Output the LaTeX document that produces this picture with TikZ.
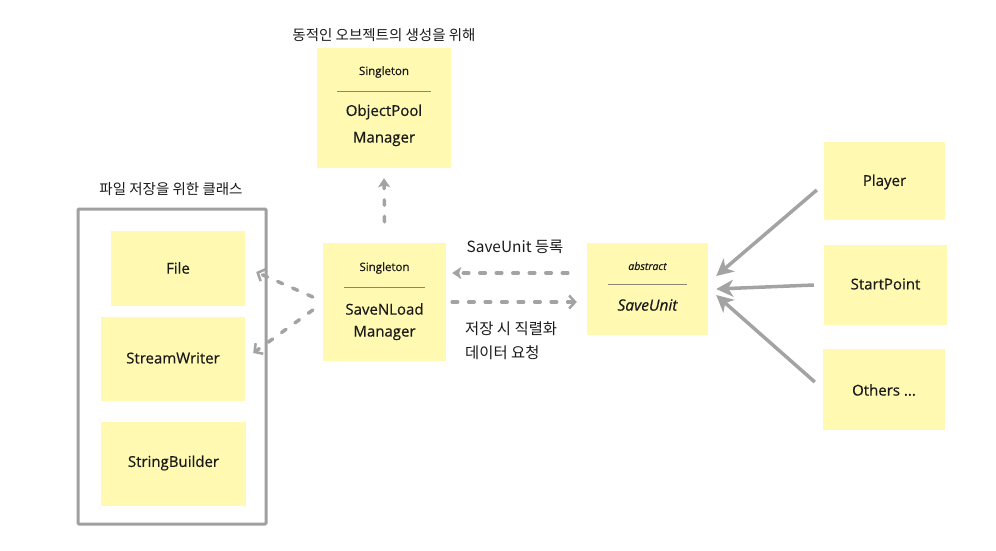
\documentclass[tikz,border=0pt]{standalone}
\usepackage{fontspec}
\setmainfont{Open Sans}[FakeBold=0.5]
\newfontfamily\kr{Noto Sans CJK KR}
\usetikzlibrary{arrows.meta}
\definecolor{sticky}{HTML}{FFF9B1}
\definecolor{conn}{HTML}{A3A3A3}
\definecolor{framec}{HTML}{A0A0A0}
\definecolor{rulec}{HTML}{8C8870}
\definecolor{ink}{HTML}{1A1A1A}
\begin{document}
\begin{tikzpicture}[x=1pt,y=-1pt,
  stickybox/.style={fill=sticky, draw=none, inner sep=0pt},
  clsname/.style={text=ink, font=\fontsize{15}{18}\selectfont, inner sep=0pt},
  stereo/.style={text=ink, font=\fontsize{11.5}{13}\selectfont, inner sep=0pt},
  grptitle/.style={text=ink, font=\kr\fontsize{14.5}{17}\selectfont, inner sep=0pt},
  notetext/.style={text=ink, font=\kr\fontsize{15.4}{18}\selectfont, inner sep=0pt},
  divider/.style={draw=rulec, line width=1pt},
  dasharrow/.style={draw=conn, line width=3.5pt, line cap=round, dash pattern=on 5.5pt off 11pt},
  openhead/.style={-{Straight Barb[length=6pt,width=13pt,line width=2.5pt]}},
  fillhead/.style={-{Stealth[length=9pt,width=12pt,inset=2pt]}},
  solidarrow/.style={draw=conn, line width=3.5pt, -{Stealth[length=17pt,width=17pt,inset=5pt]}}
]
\useasboundingbox (0,0) rectangle (996,550);

% frame
\node[draw=framec, line width=3pt, rounded corners=1pt, minimum width=188pt, minimum height=315pt, inner sep=0pt] (frame) at (172,366.5) {};
\node[grptitle] (frametitle) at (171,189) {파일 저장을 위한 클래스};

% left boxes
\node[stickybox, minimum width=134pt, minimum height=75pt] (file) at (178,268.5) {};
\node[clsname] (filet) at (178,268) {File};
\node[stickybox, minimum width=144pt, minimum height=84pt] (sw) at (173,359) {};
\node[clsname] (swt) at (173,358) {StreamWriter};
\node[stickybox, minimum width=145pt, minimum height=84pt] (sb) at (173.5,464) {};
\node[clsname] (sbt) at (173.5,463) {StringBuilder};

% ObjectPool
\node[grptitle] (optitle) at (384,35) {동적인 오브젝트의 생성을 위해};
\node[stickybox, minimum width=134pt, minimum height=120pt] (op) at (384,108) {};
\node[stereo] (ops) at (384,72) {Singleton};
\draw[divider] (337,91) -- (431,91);
\node[clsname] (opn1) at (384,112) {ObjectPool};
\node[clsname] (opn2) at (384,139) {Manager};

% SaveNLoad
\node[stickybox, minimum width=123pt, minimum height=118pt] (snl) at (384.5,302) {};
\node[stereo] (snls) at (384.5,268) {Singleton};
\draw[divider] (344,287) -- (425,287);
\node[clsname] (snln1) at (384.5,309) {SaveNLoad};
\node[clsname] (snln2) at (384.5,333) {Manager};

% SaveUnit
\node[stickybox, minimum width=121pt, minimum height=92pt] (su) at (647.5,289) {};
\node[stereo, font=\fontsize{10.5}{12}\selectfont\itshape] (sus) at (647.5,266) {abstract};
\draw[divider] (608,284) -- (687,284);
\node[clsname, font=\fontsize{15.5}{18}\selectfont\itshape] (sun) at (647.5,305) {SaveUnit};

% right boxes
\node[stickybox, minimum width=121pt, minimum height=78pt] (pl) at (884.5,181) {};
\node[clsname] (plt) at (884.5,182) {Player};
\node[stickybox, minimum width=123pt, minimum height=80pt] (sp) at (885.5,285) {};
\node[clsname] (spt) at (885.5,284) {StartPoint};
\node[stickybox, minimum width=122pt, minimum height=81pt] (ot) at (884,389.5) {};
\node[clsname] (ott) at (884,390) {Others ...};

% labels
\node[notetext] (reg) at (515,247) {SaveUnit 등록};
\node[notetext, anchor=west] (req1) at (465,329) {저장 시 직렬화};
\node[notetext, anchor=west] (req2) at (465,353) {데이터 요청};

% dashed connectors
\draw[dasharrow, fillhead] ([yshift=21pt]snl.north) -- ([yshift=-10pt]op.south);
\draw[dasharrow, openhead] ([xshift=-10pt,yshift=5pt]snl.west) -- ([xshift=11pt,yshift=-3.5pt]file.east);
\draw[dasharrow, openhead] ([xshift=-10pt,yshift=-8pt]snl.west) -- ([xshift=8pt,yshift=6pt]sw.east);
\draw[dasharrow, fillhead] ([xshift=-19pt,yshift=16pt]su.west) -- ([xshift=6pt,yshift=29pt]snl.east);
\draw[dasharrow, openhead] ([xshift=6pt]snl.east) -- ([xshift=-10pt,yshift=-13pt]su.west);

% solid connectors
\draw[solidarrow] ([xshift=-7pt,yshift=-9pt]pl.west) -- ([xshift=8pt,yshift=13pt]su.east);
\draw[solidarrow] ([xshift=-10pt]sp.west) -- ([xshift=8pt]su.east);
\draw[solidarrow] ([xshift=-8pt,yshift=7.5pt]ot.west) -- ([xshift=8pt,yshift=-6pt]su.east);
\end{tikzpicture}
\end{document}
